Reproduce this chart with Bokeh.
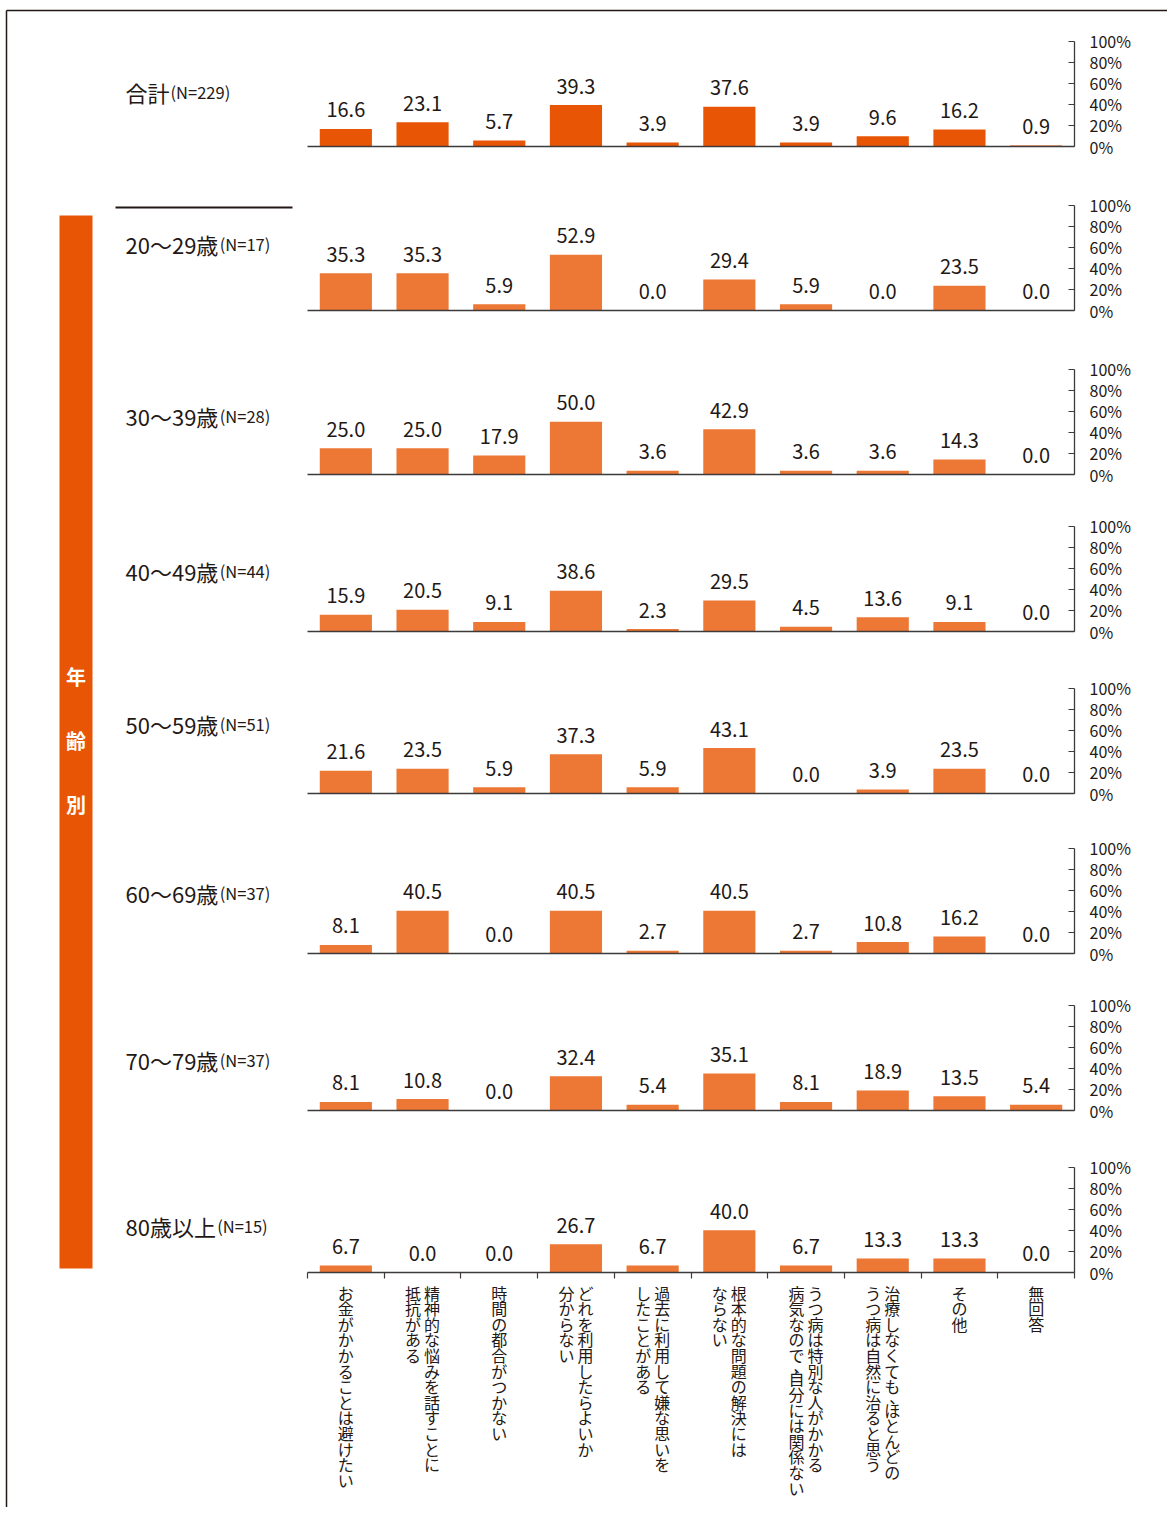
from bokeh.plotting import figure
from bokeh.models import Range1d, LinearAxis, FixedTicker, ColumnDataSource
from bokeh.core.properties import value
from bokeh.embed import file_html
from bokeh.resources import INLINE

# ---------------- data ----------------
CATEGORIES = [
    "お金がかかることは避けたい",
    "精神的な悩みを話すことに\n抵抗がある",
    "時間の都合がつかない",
    "どれを利用したらよいか\n分からない",
    "過去に利用して嫌な思いを\nしたことがある",
    "根本的な問題の解決には\nならない",
    "うつ病は特別な人がかかる\n病気なので、自分には関係ない",
    "治療しなくても、ほとんどの\nうつ病は自然に治ると思う",
    "その他",
    "無回答",
]
GROUPS = ["合計", "20〜29歳", "30〜39歳", "40〜49歳", "50〜59歳", "60〜69歳", "70〜79歳", "80歳以上"]
GROUP_N = [229, 17, 28, 44, 51, 37, 37, 15]
VALUES_TOTAL = [16.6, 23.1, 5.7, 39.3, 3.9, 37.6, 3.9, 9.6, 16.2, 0.9]
VALUES_20S = [35.3, 35.3, 5.9, 52.9, 0.0, 29.4, 5.9, 0.0, 23.5, 0.0]
VALUES_30S = [25.0, 25.0, 17.9, 50.0, 3.6, 42.9, 3.6, 3.6, 14.3, 0.0]
VALUES_40S = [15.9, 20.5, 9.1, 38.6, 2.3, 29.5, 4.5, 13.6, 9.1, 0.0]
VALUES_50S = [21.6, 23.5, 5.9, 37.3, 5.9, 43.1, 0.0, 3.9, 23.5, 0.0]
VALUES_60S = [8.1, 40.5, 0.0, 40.5, 2.7, 40.5, 2.7, 10.8, 16.2, 0.0]
VALUES_70S = [8.1, 10.8, 0.0, 32.4, 5.4, 35.1, 8.1, 18.9, 13.5, 5.4]
VALUES_80PLUS = [6.7, 0.0, 0.0, 26.7, 6.7, 40.0, 6.7, 13.3, 13.3, 0.0]
PCT_TICKS = [0, 20, 40, 60, 80, 100]
SIDE_TITLE = "年齢別"

SERIES = [VALUES_TOTAL, VALUES_20S, VALUES_30S, VALUES_40S,
          VALUES_50S, VALUES_60S, VALUES_70S, VALUES_80PLUS]

# ---------------- layout / style ----------------
W, H = 1167, 1507
BASE_Y = [146, 310, 474, 631, 793, 953, 1110, 1272]
LABEL_Y = [91, 243, 415, 570, 723, 892, 1059, 1225]
PX_PER_PCT = 1.055
PLOT_LEFT = 307
CAT_PX = 76.7
NCAT = len(CATEGORIES)
AXIS_X = PLOT_LEFT + CAT_PX * NCAT
LABEL_X = 125
MAIN_SIZE = 22
SUB_SIZE = 16.5
CHAR_TOP = 1292
CHAR_PITCH = 15.6
COL_GAP = 19

FONT = "Noto Sans CJK JP"
TXT = "#231815"
AXC = "#3e3a39"
TOTAL_COLOR = "#e85504"
AGE_COLOR = "#ed7734"
BAND_COLOR = "#e85504"

p = figure(width=W, height=H, x_range=Range1d(0, W), y_range=Range1d(H, 0),
           x_axis_type=None, y_axis_type=None, output_backend="svg",
           toolbar_location=None, min_border=0, outline_line_color=None,
           background_fill_color="white", border_fill_color="white")

p.extra_x_ranges = {"cat": Range1d(-PLOT_LEFT / CAT_PX, (W - PLOT_LEFT) / CAT_PX)}
yr = {}
for k in range(len(SERIES)):
    top_val = BASE_Y[k] / PX_PER_PCT
    yr[f"panel{k}"] = Range1d(top_val - H / PX_PER_PCT, top_val)
p.extra_y_ranges = yr

# frame lines
p.segment(x0=[6, 6], y0=[10, 10], x1=[W, 6], y1=[10, H], line_color=TXT, line_width=1.5)
# separator under total
p.segment(x0=[115], y0=[207], x1=[292], y1=[207], line_color=TXT, line_width=2.2)
# side band
p.quad(left=[59], right=[92], top=[215], bottom=[1268],
       fill_color=BAND_COLOR, line_color=None)
band_y = [676, 740, 804]
p.text(x=[(59 + 92) / 2] * len(SIDE_TITLE), y=band_y, text=list(SIDE_TITLE),
       text_align="center", text_baseline="middle", text_color="white",
       text_font=value(FONT), text_font_style="bold", text_font_size="20px")


def est_width(s, size):
    w = 0.0
    for ch in s:
        if ord(ch) >= 0x2E80 or ch == "〜":
            w += 1.0
        else:
            w += 0.56
    return w * size


xs = [i + 0.5 for i in range(NCAT)]
for k, vals in enumerate(SERIES):
    name = f"panel{k}"
    color = TOTAL_COLOR if k == 0 else AGE_COLOR
    src = ColumnDataSource(dict(x=xs, top=vals, label=[f"{v:.1f}" for v in vals]))
    p.vbar(x="x", top="top", bottom=0, width=0.68, source=src,
           x_range_name="cat", y_range_name=name, fill_color=color, line_color=None)
    p.text(x="x", y="top", text="label", source=src, x_range_name="cat", y_range_name=name,
           text_align="center", text_baseline="alphabetic", y_offset=-19,
           text_font=value(FONT), text_font_size="20px", text_color=TXT)

    # right percentage axis
    ax = LinearAxis(y_range_name=name, fixed_location=AXIS_X, bounds=(0, 100),
                    ticker=FixedTicker(ticks=PCT_TICKS),
                    major_label_overrides={t: f"{t}%" for t in PCT_TICKS},
                    major_tick_in=6, major_tick_out=0, minor_tick_line_color=None,
                    major_label_standoff=15, axis_line_color=AXC, axis_line_width=1.3,
                    major_tick_line_color=AXC, major_tick_line_width=1.2,
                    major_label_text_font=FONT, major_label_text_font_size="16px",
                    major_label_text_color=TXT)
    p.add_layout(ax, "right")

    # baseline axis
    last = k == len(SERIES) - 1
    ticks = list(range(NCAT + 1)) if last else []
    bx = LinearAxis(x_range_name="cat", y_range_name=name, fixed_location=0,
                    bounds=(0, NCAT), ticker=FixedTicker(ticks=ticks),
                    major_label_overrides={t: "" for t in ticks},
                    major_label_text_font_size="0px",
                    major_tick_in=0, major_tick_out=6 if last else 0,
                    minor_tick_line_color=None, axis_line_color=AXC, axis_line_width=1.5,
                    major_tick_line_color=AXC, major_tick_line_width=1.2)
    p.add_layout(bx, "below")

    # group label
    main = GROUPS[k]
    sub = f"(N={GROUP_N[k]})"
    p.text(x=[LABEL_X], y=[LABEL_Y[k]], text=[main], text_align="left",
           text_baseline="alphabetic", text_font=value(FONT),
           text_font_size=f"{MAIN_SIZE}px", text_color=TXT)
    p.text(x=[LABEL_X + est_width(main, MAIN_SIZE) + 1], y=[LABEL_Y[k]], text=[sub],
           text_align="left", text_baseline="alphabetic", text_font=value(FONT),
           text_font_size=f"{SUB_SIZE}px", text_color=TXT)

# vertical category labels (one glyph per character, top-to-bottom, right column first)
cx, cy, ct, cxo = [], [], [], []
for i, lab in enumerate(CATEGORIES):
    lines = lab.split("\n")
    n = len(lines)
    for li, line in enumerate(lines):
        xo = (n - 1) / 2 * COL_GAP - li * COL_GAP
        pos = 0.0
        for ch in line:
            cx.append(i + 0.5)
            ct.append(ch)
            if ch == "、":
                cy.append(CHAR_TOP + (pos - 0.35) * CHAR_PITCH)
                cxo.append(xo + 5)
                pos += 0.5
            else:
                cy.append(CHAR_TOP + pos * CHAR_PITCH)
                cxo.append(xo)
                pos += 1.0
csrc = ColumnDataSource(dict(x=cx, y=cy, t=ct, xo=cxo))
p.text(x="x", y="y", text="t", x_offset="xo", source=csrc,
       x_range_name="cat", text_align="center", text_baseline="middle",
       text_font=value(FONT), text_font_size="16px", text_color=TXT)

open("out.html", "w").write(file_html(p, INLINE))
